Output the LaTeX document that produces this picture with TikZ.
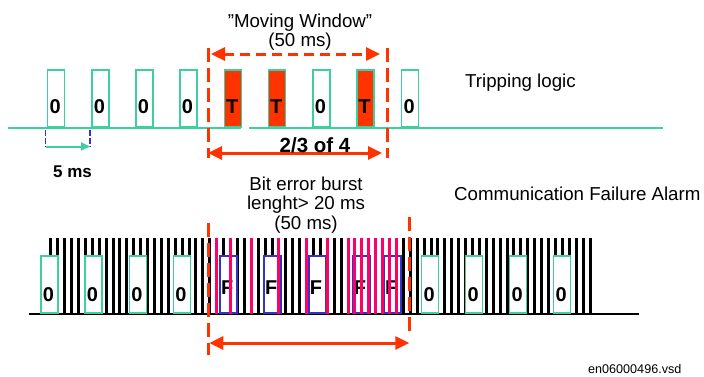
\documentclass[tikz,border=0pt]{standalone}
\usepackage{fontspec}
\setmainfont{Liberation Sans}
\usetikzlibrary{arrows.meta}
\definecolor{grn}{RGB}{60,208,160}
\definecolor{rd}{RGB}{255,51,0}
\definecolor{pnk}{RGB}{255,0,102}
\definecolor{blu}{RGB}{51,51,204}
\begin{document}
\begin{tikzpicture}[x=1pt,y=-1pt,
  txt/.style={font=\fontsize{18.7}{19.5}\selectfont, inner sep=0pt, anchor=base},
  bld/.style={font=\bfseries\fontsize{20}{21}\selectfont, inner sep=0pt, anchor=base},
  gbox/.style={draw=grn, line width=1.6pt, fill=white, minimum width=17pt, minimum height=57.2pt, inner sep=0pt, anchor=south west},
  tbox/.style={gbox, fill=rd},
  fbox/.style={gbox, draw=blu, line width=2pt},
  bar/.style={draw=black, line width=3pt},
  pbar/.style={draw=pnk, line width=3pt},
  win/.style={draw=rd, line width=3pt, dash pattern=on 14pt off 6pt},
  tipr/.tip={Triangle[length=14pt,width=13pt]},
  dimarrow/.style={draw=rd, line width=3pt, tipr-tipr},
  dashedarrow/.style={dimarrow, dash pattern=on 10pt off 6pt}]
\useasboundingbox (0,0) rectangle (704,376);
\fill[white] (0,0) rectangle (704,376);

% ---------- top row: tripping logic ----------
\coordinate (tl0) at (8,128);
\coordinate (tl1) at (241,128);
\coordinate (tl2) at (249,128);
\coordinate (tl3) at (663,128);
\draw[grn, line width=1.6pt] (tl0) -- (tl1);
\draw[grn, line width=1.6pt] (tl2) -- (tl3);

\foreach \x/\t/\s [count=\i] in {46/0/gbox, 90.3/0/gbox, 134.3/0/gbox, 178.3/0/gbox, 223/T/tbox, 267/T/tbox, 311.3/0/gbox, 355.3/T/tbox, 400/0/gbox} {
  \node[\s] (a\i) at (\x+0.8,128) {};
  \node[bld] (ta\i) at (\x+9.25,113.8) {\t};
}

% moving window
\coordinate (wl1) at (208.5,48);
\coordinate (wl2) at (208.5,158);
\coordinate (wr1) at (387,48);
\coordinate (wr2) at (387,158);
\draw[win] (wl1) -- (wl2);
\draw[win] (wr1) -- (wr2);
\coordinate (ma) at (211,54);
\coordinate (mb) at (380,54);
\draw[dashedarrow] (ma) -- (mb);
\coordinate (ta) at (208,153);
\coordinate (tb) at (382,153);
\draw[dimarrow] (ta) -- (tb);

\node[txt] (mw1) at (300,27) {"Moving Window"};
\node[txt] (mw2) at (300,46.5) {(50 ms)};
\node[bld, font=\bfseries\fontsize{20.5}{21}\selectfont] (two) at (315,152) {2/3 of 4};
\node[txt, anchor=base west] (trip) at (465,87.5) {Tripping logic};

% 5 ms dimension
\coordinate (d1a) at (45.5,130);
\coordinate (d1b) at (45.5,147);
\coordinate (d2a) at (90,130);
\coordinate (d2b) at (90,147);
\draw[blu, line width=1.5pt, dash pattern=on 6pt off 2pt] (d1a) -- (d1b);
\draw[blu, line width=1.5pt, dash pattern=on 6pt off 2pt] (d2a) -- (d2b);
\coordinate (g1) at (45.5,146.5);
\coordinate (g2) at (90,146.5);
\draw[grn, line width=2pt, -{Triangle[length=9pt,width=8pt]}] (g1) -- (g2);
\node[bld, font=\bfseries\fontsize{17}{18}\selectfont] (five) at (72.5,177) {5 ms};

% ---------- bottom row: communication failure ----------
\foreach \k in {0,...,78} {
  \draw[bar] ({50.8+6.913*\k},238) -- ({50.8+6.913*\k},314);
}
\coordinate (bl0) at (29,314);
\coordinate (bl1) at (639,314);
\draw[black, line width=1.5pt] (bl0) -- (bl1);

\foreach \x [count=\i] in {39.3,83.3,127.7,171.7,420,464,508,552} {
  \node[gbox] (b\i) at (\x+0.8,314) {};
  \node[bld] (tb\i) at (\x+9.2,301.8) {0};
}
\foreach \x [count=\i] in {218,262,306.7,350.7,382} {
  \node[fbox] (f\i) at (\x+0.8,314) {};
  \node[bld] (tf\i) at (\x+9.2,294) {F};
}
\foreach \k in {24,26,29,33,37,40,43,44,45,46,47,48,49,50} {
  \draw[pbar] ({50.8+6.913*\k},238) -- ({50.8+6.913*\k},314);
}

\coordinate (bwl1) at (208.3,223);
\coordinate (bwl2) at (208.3,355);
\coordinate (bwr1) at (409.3,217);
\coordinate (bwr2) at (409.3,337);
\draw[win] (bwl1) -- (bwl2);
\draw[win] (bwr1) -- (bwr2);
\coordinate (ba) at (209.3,343);
\coordinate (bb) at (409.3,343);
\draw[dimarrow] (ba) -- (bb);

\node[txt] (be1) at (306,190) {Bit error burst};
\node[txt] (be2) at (306,209.5) {lenght> 20 ms};
\node[txt] (be3) at (306,229) {(50 ms)};
\node[txt, anchor=base west] (cfa) at (454,200) {Communication Failure Alarm};
\node[font=\fontsize{12.6}{13}\selectfont, inner sep=0pt, anchor=base west] (fn) at (588,373) {en06000496.vsd};
\end{tikzpicture}
\end{document}
